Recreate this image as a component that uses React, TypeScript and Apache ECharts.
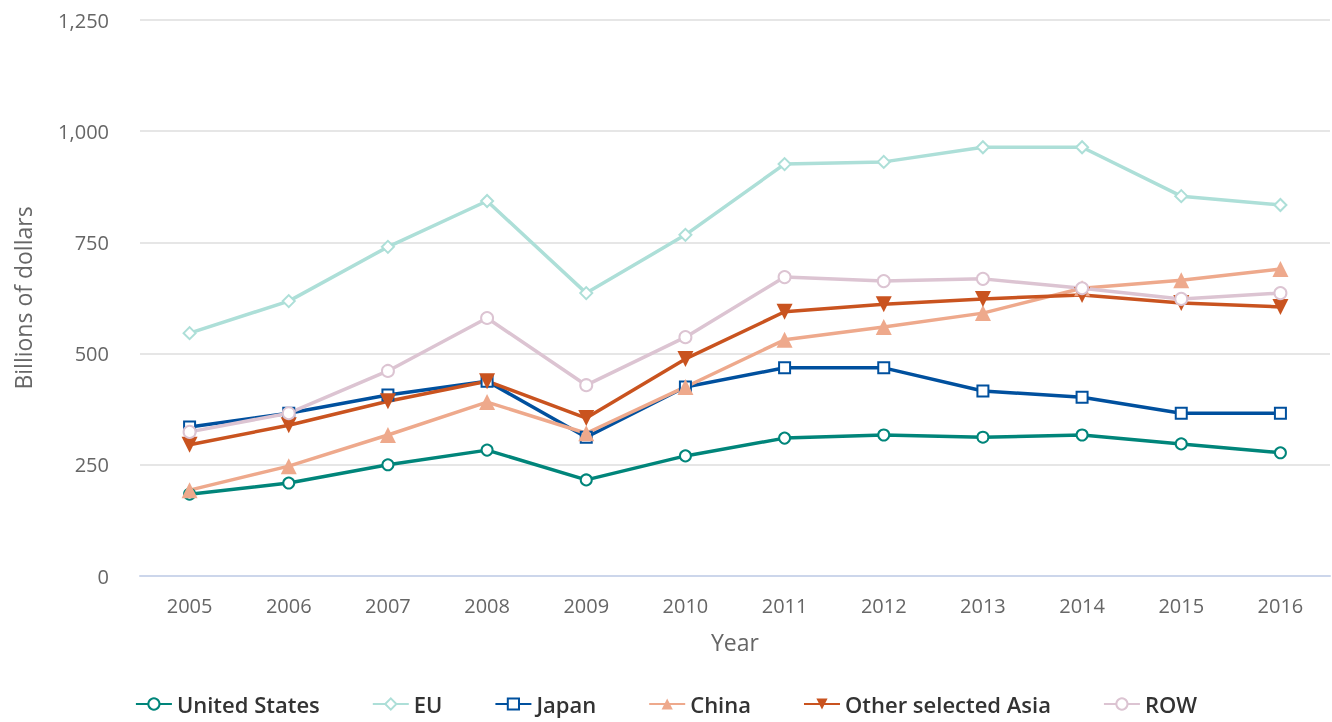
import React, { useEffect, useRef } from "react";
import * as echarts from "echarts";

const years = ["2005", "2006", "2007", "2008", "2009", "2010", "2011", "2012", "2013", "2014", "2015", "2016"];
const unitedStates = [184, 209, 250, 283, 216, 270, 310, 317, 312, 317, 297, 277];
const eu = [546, 618, 740, 843, 636, 767, 926, 931, 964, 964, 854, 834];
const japan = [335, 366, 407, 438, 312, 425, 468, 468, 416, 402, 366, 366];
const china = [193, 247, 317, 391, 321, 425, 531, 560, 591, 647, 665, 690];
const otherAsia = [295, 339, 393, 438, 355, 488, 594, 611, 623, 632, 614, 605];
const row = [324, 366, 461, 580, 429, 537, 672, 663, 668, 647, 623, 636];

const FONT = "'Open Sans', 'Noto Sans', sans-serif";

export default function App() {
  const ref = useRef<HTMLDivElement>(null);
  useEffect(() => {
    if (!ref.current) return;
    const chart = echarts.init(ref.current, undefined, { renderer: "svg" });
    const mk = (name: string, data: number[], color: string, symbol: string, opts: any = {}) => ({
      name,
      type: "line",
      data,
      symbol,
      symbolSize: opts.size ?? 11,
      symbolRotate: opts.rotate ?? 0,
      lineStyle: { color, width: 3.5 },
      itemStyle: { color, borderColor: color, borderWidth: opts.bw ?? 3.5 },
      emphasis: { disabled: true },
    });
    chart.setOption({
      animation: false,
      textStyle: { fontFamily: FONT },
      grid: { left: 140, right: 2, top: 20, bottom: 146, outerBoundsMode: "none", containLabel: false },
      legend: {
        bottom: 2,
        left: "center",
        itemWidth: 36,
        itemHeight: 14,
        itemGap: 52,
        textStyle: { fontSize: 22, color: "#333", fontFamily: FONT, fontWeight: 600 },
        data: ["United States", "EU", "Japan", "China", "Other selected Asia", "ROW"],
      },
      xAxis: {
        type: "category",
        data: years,
        boundaryGap: true,
        name: "Year",
        nameLocation: "middle",
        nameGap: 54,
        nameTextStyle: { fontSize: 23, color: "#666" },
        axisLine: { lineStyle: { color: "#ccd6eb", width: 2 } },
        axisTick: { alignWithLabel: true, length: 10, lineStyle: { color: "#ccd6eb", width: 2 } },
        axisLabel: { fontSize: 20, color: "#666", margin: 19 },
      },
      yAxis: {
        type: "value",
        min: 0,
        max: 1250,
        interval: 250,
        name: "Billions of dollars",
        nameLocation: "middle",
        nameGap: 106,
        nameTextStyle: { fontSize: 23, color: "#666" },
        axisLine: { show: false },
        axisTick: { show: false },
        axisLabel: {
          fontSize: 20,
          color: "#666",
          margin: 31,
          formatter: (v: number) => v.toLocaleString("en-US"),
        },
        splitLine: { lineStyle: { color: "#e6e6e6", width: 2 } },
      },
      series: [
        mk("United States", unitedStates, "#00857a", "emptyCircle", { size: 11 }),
        mk("EU", eu, "#addfd8", "emptyDiamond", { size: 12 }),
        mk("Japan", japan, "#00509e", "emptyRect", { size: 11 }),
        mk("China", china, "#eea98c", "triangle", { size: 16, bw: 0 }),
        mk("Other selected Asia", otherAsia, "#c9531f", "triangle", { size: 16, rotate: 180, bw: 0 }),
        mk("ROW", row, "#dcc4d2", "emptyCircle", { size: 12 }),
      ],
    });
    return () => chart.dispose();
  }, []);
  return (
    <div
      ref={ref}
      style={{ position: "fixed", left: 0, top: 0, width: 1332, height: 722 }}
    />
  );
}
